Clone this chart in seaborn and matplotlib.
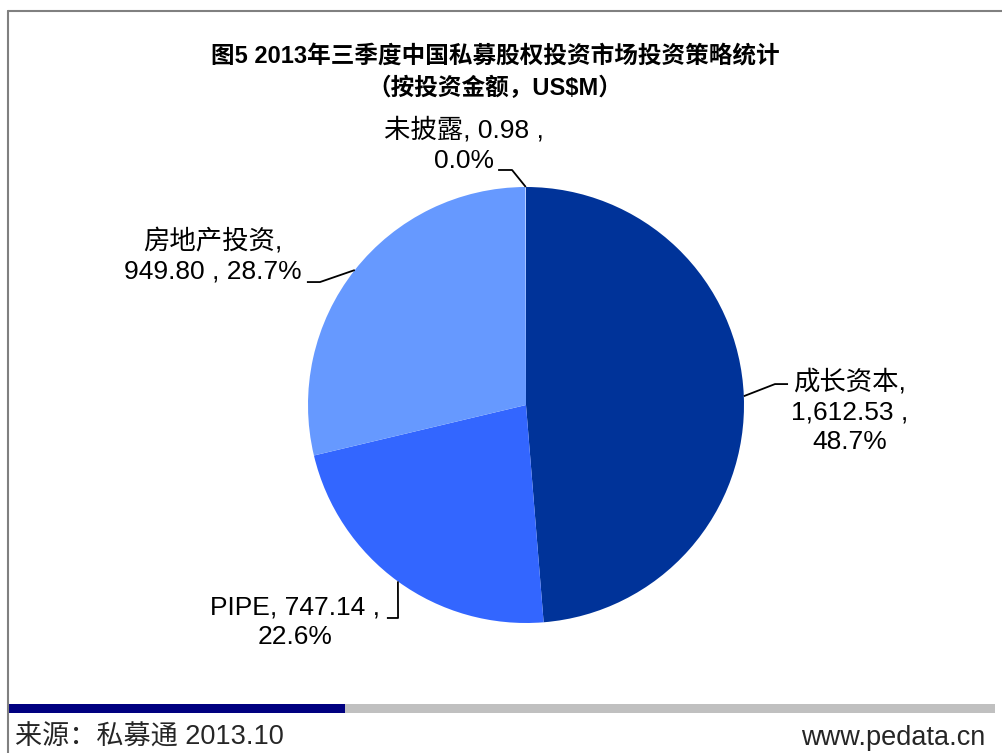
import matplotlib
matplotlib.use("Agg")
import matplotlib.pyplot as plt
from matplotlib.patches import Rectangle
from matplotlib.lines import Line2D
import numpy as np
import seaborn as sns

sns.set_theme(style="white")
plt.rcParams["font.family"] = ["Liberation Sans", "Noto Sans CJK SC", "DejaVu Sans"]

# data
categories = ["成长资本", "PIPE", "房地产投资", "未披露"]
amounts = [1612.53, 747.14, 949.80, 0.98]
shares = ["48.7%", "22.6%", "28.7%", "0.0%"]
colors = ["#003399", "#3366FF", "#6699FF", "#DDE8FF"]

labels = [
    f"{categories[0]},\n{amounts[0]:,.2f} ,\n{shares[0]}",
    f"{categories[1]}, {amounts[1]:,.2f} ,\n{shares[1]}",
    f"{categories[2]},\n{amounts[2]:,.2f} , {shares[2]}",
    f"{categories[3]}, {amounts[3]:,.2f} ,\n{shares[3]}",
]
# label placement (pie radius units) and leader-line elbows
label_pos = [(1.486, -0.03), (-1.06, -0.995), (-1.436, 0.683), (-0.284, 1.193)]
elbows = [
    [(1.142, 0.096), (1.202, 0.096)],
    [(-0.587, -0.977), (-0.638, -0.977)],
    [(-0.945, 0.564), (-1.005, 0.564)],
    [(-0.064, 1.078), (-0.128, 1.078)],
]

W, H = 1002, 753
fig = plt.figure(figsize=(W / 100, H / 100), dpi=100)
fig.patch.set_facecolor("white")

cx, cy, r = 526, H - 405, 218
ax = fig.add_axes([(cx - r) / W, (cy - r) / H, 2 * r / W, 2 * r / H])
wedges, _ = ax.pie(
    amounts,
    colors=colors,
    startangle=90,
    counterclock=False,
    radius=1,
    wedgeprops=dict(linewidth=0),
)
ax.set_xlim(-1, 1)
ax.set_ylim(-1, 1)
ax.axis("off")

for w, lab, pos, elb in zip(wedges, labels, label_pos, elbows):
    mid = np.deg2rad((w.theta1 + w.theta2) / 2)
    pts = [(np.cos(mid), np.sin(mid))] + elb
    xs, ys = zip(*pts)
    ax.plot(xs, ys, color="black", lw=1.3, clip_on=False, solid_capstyle="butt")
    ax.text(pos[0], pos[1], lab, ha="center", va="center", fontsize=19,
            color="black", linespacing=1.3, clip_on=False)

# title
fig.text(495 / W, 1 - 57 / H, "图5 2013年三季度中国私募股权投资市场投资策略统计",
         ha="center", va="center", fontsize=17, fontweight="bold", color="black")
fig.text(495 / W, 1 - 88 / H, "（按投资金额，US$M）",
         ha="center", va="center", fontsize=17, fontweight="bold", color="black")

# frame lines
fig.add_artist(Line2D([8 / W, 1], [1 - 11 / H, 1 - 11 / H], color="#808080", lw=1.5,
                      transform=fig.transFigure))
fig.add_artist(Line2D([8 / W, 8 / W], [0, 1 - 11 / H], color="#808080", lw=1.5,
                      transform=fig.transFigure))

# bottom bar
fig.add_artist(Rectangle((8 / W, 1 - 713 / H), (345 - 8) / W, 9 / H,
                         color="#000080", transform=fig.transFigure, lw=0))
fig.add_artist(Rectangle((345 / W, 1 - 713 / H), (995 - 345) / W, 9 / H,
                         color="#C0C0C0", transform=fig.transFigure, lw=0))

# footer
fig.text(15 / W, 1 - 738 / H, "来源：私募通 2013.10", ha="left", va="center", fontsize=19.5)
fig.text(985 / W, 1 - 738 / H, "www.pedata.cn", ha="right", va="center", fontsize=19.5)

fig.savefig("out.png", dpi=100)
